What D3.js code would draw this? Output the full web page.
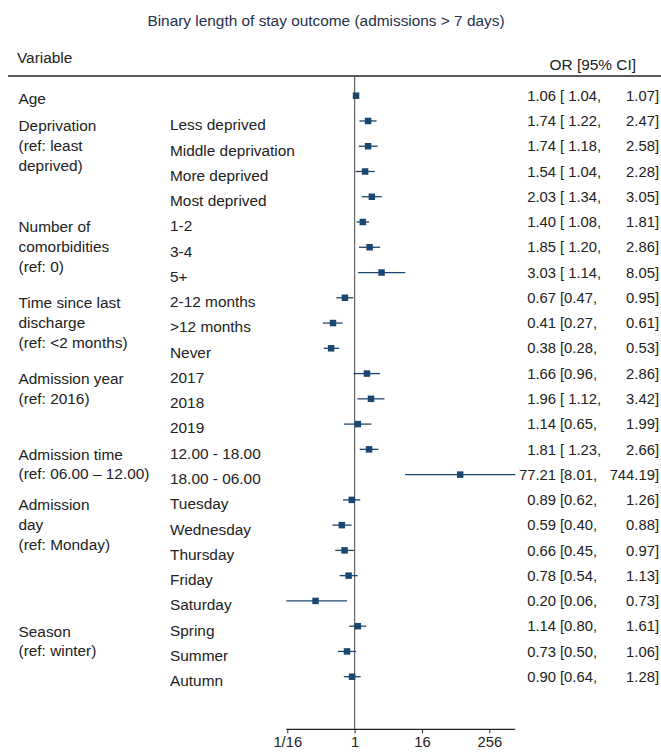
<!DOCTYPE html>
<html><head><meta charset="utf-8">
<script src="https://cdn.jsdelivr.net/npm/d3@7"></script>
<style>body{margin:0;background:#fff} text{font-family:"Liberation Sans",Arial,sans-serif}</style>
</head><body><svg id="c" width="661" height="752"></svg>
<script>
const subLabels = ["", "Less deprived", "Middle deprivation", "More deprived", "Most deprived",
  "1-2", "3-4", "5+", "2-12 months", ">12 months", "Never", "2017", "2018", "2019",
  "12.00 - 18.00", "18.00 - 06.00", "Tuesday", "Wednesday", "Thursday", "Friday", "Saturday",
  "Spring", "Summer", "Autumn"];
const groupLabels = [
  {row: 0, lines: ["Age"]},
  {row: 1, lines: ["Deprivation", "(ref: least", "deprived)"]},
  {row: 5, lines: ["Number of", "comorbidities", "(ref: 0)"]},
  {row: 8, lines: ["Time since last", "discharge", "(ref: <2 months)"]},
  {row: 11, lines: ["Admission year", "(ref: 2016)"]},
  {row: 14, lines: ["Admission time", "(ref: 06.00 \u2013 12.00)"]},
  {row: 16, lines: ["Admission", "day", "(ref: Monday)"]},
  {row: 21, lines: ["Season", "(ref: winter)"]}
];
const orValues = [1.06, 1.74, 1.74, 1.54, 2.03, 1.40, 1.85, 3.03, 0.67, 0.41, 0.38, 1.66, 1.96, 1.14,
  1.81, 77.21, 0.89, 0.59, 0.66, 0.78, 0.20, 1.14, 0.73, 0.90];
const lowerCI = [1.04, 1.22, 1.18, 1.04, 1.34, 1.08, 1.20, 1.14, 0.47, 0.27, 0.28, 0.96, 1.12, 0.65,
  1.23, 8.01, 0.62, 0.40, 0.45, 0.54, 0.06, 0.80, 0.50, 0.64];
const upperCI = [1.07, 2.47, 2.58, 2.28, 3.05, 1.81, 2.86, 8.05, 0.95, 0.61, 0.53, 2.86, 3.42, 1.99,
  2.66, 744.19, 1.26, 0.88, 0.97, 1.13, 0.73, 1.61, 1.06, 1.28];
const tickValues = [1/16, 1, 16, 256];
const tickLabels = ["1/16", "1", "16", "256"];
const titleText = "Binary length of stay outcome (admissions > 7 days)";

const svg = d3.select("#c");
const navy = "#1a476f";
const textCol = "#222";
const fsL = 15.4;  // labels
const fsN = 14.8;  // numbers

const x = d3.scaleLog().base(2).domain([1/16, 256]).range([287.3, 489.3]);
const y = d3.scaleLinear().domain([0, subLabels.length - 1]).range([95.7, 676.7]);
const fmt = d3.format(".2f");

// title
svg.append("text").attr("x", 326).attr("y", 21).attr("dy", "0.35em")
  .attr("text-anchor", "middle").attr("font-size", 15.4).attr("fill", "#26314a").text(titleText);

// header
svg.append("text").attr("x", 17).attr("y", 58).attr("dy", "0.35em")
  .attr("font-size", fsL).attr("fill", textCol).text("Variable");
svg.append("text").attr("x", 636).attr("y", 65).attr("dy", "0.35em").attr("text-anchor", "end")
  .attr("font-size", fsL).attr("fill", textCol).text("OR [95% CI]");
svg.append("line").attr("x1", 8).attr("x2", 661).attr("y1", 76).attr("y2", 76)
  .attr("stroke", "#222").attr("stroke-width", 1.4);

// reference line at 1
const axisY = 729.3;
svg.append("line").attr("x1", x(1)).attr("x2", x(1)).attr("y1", 76).attr("y2", axisY)
  .attr("stroke", "#555").attr("stroke-width", 1.1);

// group labels
groupLabels.forEach(g => {
  g.lines.forEach((l, i) => {
    svg.append("text").attr("x", 18.5).attr("y", y(g.row) + (g.row === 0 ? 3 : 5) + i * 19.7)
      .attr("dy", "0.35em").attr("font-size", fsL).attr("fill", textCol).text(l);
  });
});

// sub labels
svg.append("g").selectAll("text").data(subLabels).join("text")
  .attr("x", 170).attr("y", (d, i) => y(i) + 4).attr("dy", "0.35em")
  .attr("font-size", fsL).attr("fill", textCol).text(d => d);

// CI lines and markers
const rows = orValues.map((v, i) => ({v, lo: lowerCI[i], hi: upperCI[i], i}));
svg.append("g").selectAll("line").data(rows).join("line")
  .attr("x1", d => x(d.lo)).attr("x2", d => x(d.hi))
  .attr("y1", d => y(d.i)).attr("y2", d => y(d.i))
  .attr("stroke", navy).attr("stroke-width", 1.3);
const ms = 6.5;
svg.append("g").selectAll("rect").data(rows).join("rect")
  .attr("x", d => x(d.v) - ms / 2).attr("y", d => y(d.i) - ms / 2)
  .attr("width", ms).attr("height", ms).attr("fill", navy);

// right-hand text
const rt = svg.append("g").attr("font-size", fsN).attr("fill", textCol);
rt.selectAll("text.or").data(rows).join("text").attr("class", "or")
  .attr("x", 556).attr("y", d => y(d.i)).attr("dy", "0.35em").attr("text-anchor", "end")
  .text(d => fmt(d.v));
rt.selectAll("text.lo").data(rows).join("text").attr("class", "lo")
  .attr("x", 560).attr("y", d => y(d.i)).attr("dy", "0.35em")
  .attr("xml:space", "preserve").style("white-space", "pre")
  .text(d => { const s = fmt(d.lo); return "[" + (s[0] === "1" ? " " : "") + s + ","; });
rt.selectAll("text.hi").data(rows).join("text").attr("class", "hi")
  .attr("x", 659).attr("y", d => y(d.i)).attr("dy", "0.35em").attr("text-anchor", "end")
  .text(d => fmt(d.hi) + "]");

// axis
const axis = d3.axisBottom(x).tickValues(tickValues)
  .tickFormat((d, i) => tickLabels[i]).tickSize(4).tickPadding(3);
const ag = svg.append("g").attr("transform", `translate(0,${axisY})`).call(axis);
ag.select(".domain").remove();
ag.append("line").attr("x1", x(d3.min(lowerCI))).attr("x2", x(d3.max(upperCI)))
  .attr("y1", 0).attr("y2", 0).attr("stroke", "#222").attr("stroke-width", 1.2);
ag.selectAll(".tick line").attr("stroke", "#222");
ag.selectAll(".tick text").attr("font-size", fsN).attr("fill", textCol)
  .attr("font-family", "'Liberation Sans', Arial, sans-serif");
</script></body></html>
